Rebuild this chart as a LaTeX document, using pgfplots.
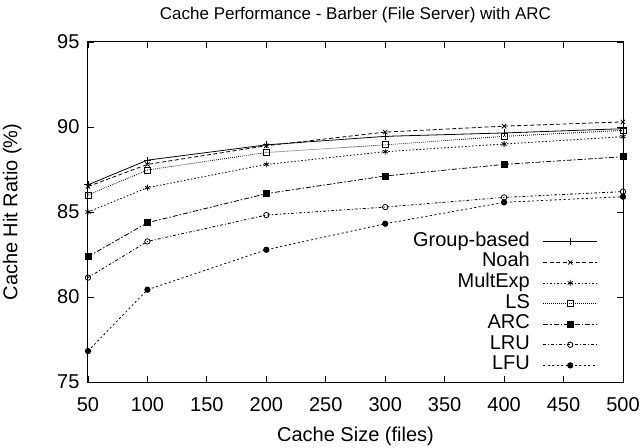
\documentclass[border=0pt]{standalone}
\usepackage{fontspec}
\setmainfont{Liberation Sans}
\usepackage{pgfplots}
\pgfplotsset{compat=1.18}
\begin{document}
\begin{tikzpicture}
\begin{axis}[
  at={(0,0)}, anchor=south west,
  scale only axis, width=535bp, height=340bp,
  xmin=50, xmax=500, ymin=75, ymax=95,
  xtick={50,100,...,500}, ytick={75,80,...,95},
  tick align=inside, tick pos=both, major tick length=6bp,
  axis line style={line width=1pt}, tick style={line width=0.8pt, black},
  /pgf/number format/assume math mode=true,
  ticklabel style={font=\fontsize{20bp}{24bp}\selectfont},
  xticklabel style={yshift=-12bp},
  yticklabel style={xshift=-5bp},
  label style={font=\fontsize{20bp}{24bp}\selectfont},
  xlabel style={yshift=-8bp},
  ylabel style={yshift=29bp},
  title style={font=\fontsize{17bp}{20bp}\selectfont, yshift=9bp},
  title={Cache Performance - Barber (File Server) with ARC},
  xlabel={Cache Size (files)}, ylabel={Cache Hit Ratio (\%)},
  every axis plot/.append style={line width=0.8pt, black},
  legend plot pos=right, legend cell align=right,
  legend style={draw=none, fill=none, at={(0.953,0.018)}, anchor=south east,
    font=\fontsize{20bp}{20.2bp}\selectfont, row sep=0pt, column sep=13bp,
    inner sep=0pt, nodes={inner sep=0pt, text height=14.8bp, text depth=5.8bp}},
  legend image code/.code={\draw[mark repeat=2,mark phase=2] plot coordinates {(0bp,0bp)(27bp,0bp)(54bp,0bp)};},
]
\addplot[solid, mark=+, mark size=3.5bp] coordinates {(50,86.6)(100,88.05)(200,88.95)(300,89.45)(400,89.65)(500,89.9)};
\addlegendentry{Group-based}
\addplot[dash pattern=on 4bp off 2.5bp, mark=x, mark size=3bp, mark options={solid}] coordinates {(50,86.5)(100,87.8)(200,88.9)(300,89.7)(400,90.05)(500,90.3)};
\addlegendentry{Noah}
\addplot[dash pattern=on 1.5bp off 2bp, mark=asterisk, mark size=3bp, mark options={solid}] coordinates {(50,85.0)(100,86.43)(200,87.8)(300,88.55)(400,89.0)(500,89.43)};
\addlegendentry{MultExp}
\addplot[dash pattern=on 0.8bp off 1.2bp, mark=square, mark size=3bp, mark options={solid}] coordinates {(50,86.0)(100,87.47)(200,88.5)(300,88.95)(400,89.45)(500,89.8)};
\addlegendentry{LS}
\addplot[dash pattern=on 5bp off 2bp on 1.5bp off 2bp, mark=square*, mark size=3bp, mark options={solid}] coordinates {(50,82.37)(100,84.37)(200,86.08)(300,87.12)(400,87.8)(500,88.25)};
\addlegendentry{ARC}
\addplot[dash pattern=on 3bp off 2bp on 1bp off 2bp, mark=o, mark size=2.7bp, mark options={solid}] coordinates {(50,81.14)(100,83.27)(200,84.82)(300,85.29)(400,85.86)(500,86.2)};
\addlegendentry{LRU}
\addplot[dash pattern=on 2bp off 2.5bp, mark=*, mark size=2.7bp, mark options={solid}] coordinates {(50,76.82)(100,80.43)(200,82.78)(300,84.31)(400,85.57)(500,85.9)};
\addlegendentry{LFU}
\end{axis}
\pgfresetboundingbox
\path (-88bp,-66bp) rectangle (554bp,382bp);
\end{tikzpicture}
\end{document}
